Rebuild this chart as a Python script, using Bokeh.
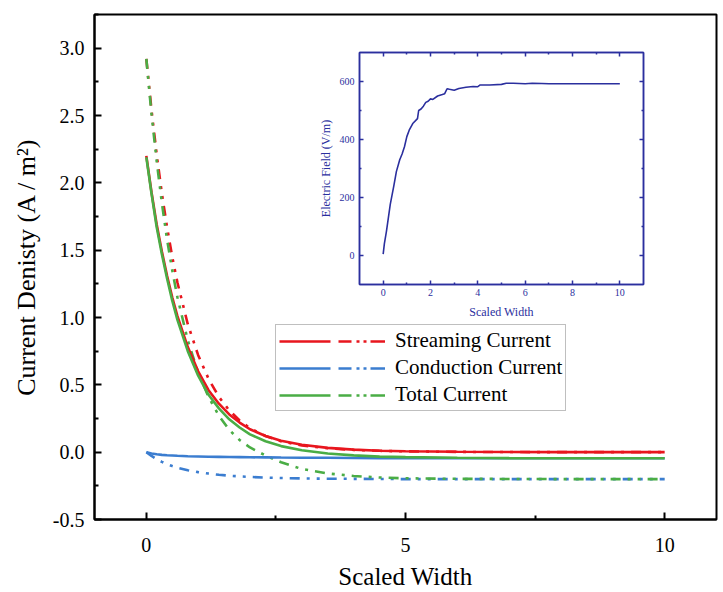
from bokeh.plotting import figure
from bokeh.models import (Range1d, FixedTicker, PrintfTickFormatter, Legend, LegendItem, ColumnDataSource,
                          LinearAxis, Column, CustomJSTickFormatter)
from bokeh.embed import file_html
from bokeh.resources import INLINE

# ---------------- data ----------------
x_scaled = [0, 0.1, 0.2, 0.3, 0.4, 0.5, 0.6, 0.8, 1.0, 1.2, 1.4, 1.6, 1.8, 2.0,
            2.3, 2.6, 3.0, 3.5, 4.0, 4.5, 5, 6, 7, 8, 9, 10]

streaming_solid = [2.20, 1.93, 1.69, 1.49, 1.31, 1.15, 1.01, 0.78, 0.60, 0.46, 0.36, 0.28, 0.22, 0.17,
                   0.12, 0.085, 0.055, 0.032, 0.019, 0.011, 0.007, 0.003, 0.001, 0.0, 0.0, 0.0]
streaming_dash = [2.92, 2.54, 2.21, 1.92, 1.67, 1.45, 1.26, 0.95, 0.72, 0.545, 0.41, 0.31, 0.235, 0.178,
                  0.12, 0.08, 0.05, 0.029, 0.017, 0.010, 0.006, 0.002, 0.001, 0.0, 0.0, 0.0]
conduction_solid = [0.0, -0.010, -0.016, -0.020, -0.023, -0.025, -0.027, -0.030, -0.032, -0.034, -0.035,
                    -0.036, -0.037, -0.038, -0.039, -0.040, -0.041, -0.042, -0.043, -0.044, -0.044,
                    -0.045, -0.045, -0.045, -0.045, -0.045]
conduction_dash = [0.0, -0.028, -0.052, -0.072, -0.089, -0.103, -0.115, -0.134, -0.148, -0.159, -0.168,
                   -0.175, -0.180, -0.184, -0.189, -0.192, -0.195, -0.197, -0.198, -0.199, -0.200,
                   -0.200, -0.200, -0.200, -0.200, -0.200]
total_solid = [2.19, 1.92, 1.67, 1.47, 1.29, 1.125, 0.983, 0.75, 0.568, 0.426, 0.325, 0.244, 0.183, 0.132,
               0.081, 0.045, 0.014, -0.010, -0.024, -0.033, -0.037, -0.042, -0.044, -0.045, -0.045, -0.045]
total_dash = [2.92, 2.51, 2.16, 1.85, 1.58, 1.35, 1.15, 0.83, 0.59, 0.41, 0.27, 0.165, 0.09, 0.035,
              -0.025, -0.075, -0.125, -0.158, -0.177, -0.188, -0.194, -0.198, -0.199, -0.200, -0.200, -0.200]

field_x = [0, 0.05, 0.14, 0.3, 0.45, 0.56, 0.7, 0.8, 0.9, 1.0, 1.1, 1.25, 1.45, 1.5, 1.6, 1.7, 1.8, 1.9,
           2.0, 2.1, 2.3, 2.5, 2.6, 2.7, 2.8, 3.0, 3.2, 3.5, 3.8, 4.0, 4.1, 4.5, 5.0, 5.2, 5.5, 6.0,
           6.3, 6.7, 7.0, 8.0, 9.0, 10.0]
field_E = [5, 40, 84, 176, 240, 290, 330, 350, 375, 410, 432, 455, 472, 500, 505, 515, 528, 532,
           540, 538, 550, 555, 558, 575, 573, 570, 576, 580, 583, 582, 588, 588, 590, 594, 594, 592,
           594, 593, 592, 592, 592, 592]

labels = ["Streaming Current", "Conduction Current", "Total Current"]
colors = ["#e8161e", "#3b7dd0", "#4aad45"]

x_ticks = [0, 5, 10]
x_minor = [2.5, 7.5]
y_ticks = [-0.5, 0.0, 0.5, 1.0, 1.5, 2.0, 2.5, 3.0]
y_minor = [-0.25, 0.25, 0.75, 1.25, 1.75, 2.25, 2.75, 3.25]

FONT = "Liberation Serif"
DASH = "10 7 3 7 3 7"

# ---------------- main figure ----------------
p = figure(width=723, height=592, x_range=Range1d(-1, 11), y_range=Range1d(-0.5, 3.25),
           min_border_left=94, min_border_right=7, min_border_top=14, min_border_bottom=73,
           output_backend="svg", toolbar_location=None, background_fill_color="white",
           border_fill_color="white")
p.grid.visible = False
p.outline_line_color = "black"
p.outline_line_width = 2

p.xaxis.ticker = FixedTicker(ticks=x_ticks, minor_ticks=x_minor)
p.yaxis.ticker = FixedTicker(ticks=y_ticks, minor_ticks=y_minor)
p.yaxis.formatter = PrintfTickFormatter(format="%.1f")
for ax in (p.xaxis[0], p.yaxis[0]):
    ax.axis_line_width = 2
    ax.axis_line_color = "black"
    ax.major_tick_in = 7
    ax.major_tick_out = 0
    ax.minor_tick_in = 4
    ax.minor_tick_out = 0
    ax.major_tick_line_width = 2
    ax.minor_tick_line_width = 2
    ax.major_label_text_font = FONT
    ax.major_label_text_font_size = "20px"
    ax.major_label_text_color = "black"
    ax.axis_label_text_font = FONT
    ax.axis_label_text_font_style = "normal"
    ax.axis_label_text_color = "black"
p.xaxis.axis_label = "Scaled Width"
p.yaxis.axis_label = "Current Denisty (A / m²)"
p.xaxis.axis_label_text_font_size = "25px"
p.yaxis.axis_label_text_font_size = "26px"
p.xaxis.major_label_standoff = 18
p.xaxis.axis_label_standoff = 8
p.yaxis.major_label_standoff = 10
p.yaxis.axis_label_standoff = 9

src = ColumnDataSource(dict(x=x_scaled, s1=streaming_solid, s2=streaming_dash, c1=conduction_solid,
                            c2=conduction_dash, t1=total_solid, t2=total_dash))
W = 2.6
p.line("x", "c2", source=src, color=colors[1], line_width=W, line_dash=DASH)
p.line("x", "s2", source=src, color=colors[0], line_width=W, line_dash=DASH)
p.line("x", "t2", source=src, color=colors[2], line_width=W, line_dash=DASH)
p.line("x", "c1", source=src, color=colors[1], line_width=W)
p.line("x", "s1", source=src, color=colors[0], line_width=W)
p.line("x", "t1", source=src, color=colors[2], line_width=W)

# legend: proxy renderers (a single NaN point, so nothing is drawn in the plot)
# each showing a solid sample followed by a dash-dot-dot sample
nan = float("nan")
items = []
for lab, col in zip(labels, colors):
    proxy = ColumnDataSource(dict(x=[nan], y=[nan]))
    r = p.line("x", "y", source=proxy, color=col, line_width=W,
               line_dash="51 8 13 5 3 4 3 4 15 60")
    items.append(LegendItem(label=lab, renderers=[r]))
legend = Legend(items=items, location=(181, 108), glyph_width=106, glyph_height=22,
                label_height=22, label_standoff=10, spacing=2, padding=3, margin=0,
                label_text_font=FONT, label_text_font_size="21px", label_text_color="black",
                border_line_color="#808080", border_line_width=1, background_fill_color="white",
                background_fill_alpha=1)
p.add_layout(legend, "center")

# ---------------- inset ----------------
NAVY = "#2b2f9e"
inset = figure(width=385, height=274, x_range=Range1d(-1, 11), y_range=Range1d(-100, 700),
               min_border_left=66, min_border_right=2, min_border_top=2, min_border_bottom=40,
               output_backend="svg", toolbar_location=None, background_fill_alpha=0,
               border_fill_alpha=0,
               styles={"position": "absolute", "left": "265px", "top": "50px",
                       "width": "385px", "height": "274px", "z-index": "2"})
inset.grid.visible = False
inset.outline_line_color = NAVY
inset.outline_line_width = 1.5
blank = CustomJSTickFormatter(code="return ''")
inset.add_layout(LinearAxis(formatter=blank, major_label_standoff=0), "above")
inset.add_layout(LinearAxis(formatter=blank, major_label_standoff=0), "right")
for ax in inset.xaxis:
    ax.ticker = FixedTicker(ticks=[0, 2, 4, 6, 8, 10], minor_ticks=[1, 3, 5, 7, 9])
for ax in inset.yaxis:
    ax.ticker = FixedTicker(ticks=[0, 200, 400, 600], minor_ticks=[100, 300, 500])
for ax in inset.axis:
    ax.axis_line_color = NAVY
    ax.axis_line_width = 1.5
    ax.major_tick_in = 4
    ax.major_tick_out = 0
    ax.minor_tick_in = 2
    ax.minor_tick_out = 0
    ax.major_tick_line_color = NAVY
    ax.minor_tick_line_color = NAVY
    ax.major_tick_line_width = 1.5
    ax.minor_tick_line_width = 1.5
    ax.major_label_text_font = FONT
    ax.major_label_text_font_size = "10px"
    ax.major_label_text_color = NAVY
    ax.axis_label_text_font = FONT
    ax.axis_label_text_font_style = "normal"
    ax.axis_label_text_font_size = "12px"
    ax.axis_label_text_color = NAVY
inset.below[0].axis_label = "Scaled Width"
inset.left[0].axis_label = "Electric Field (V/m)"
inset.below[0].major_label_standoff = 4
inset.below[0].axis_label_standoff = 6
inset.left[0].major_label_standoff = 5
inset.left[0].axis_label_standoff = 4

inset.line(field_x, field_E, color=NAVY, line_width=1.6)

layout = Column(children=[p, inset], styles={"position": "relative"})

open("out.html", "w").write(file_html(layout, INLINE))
